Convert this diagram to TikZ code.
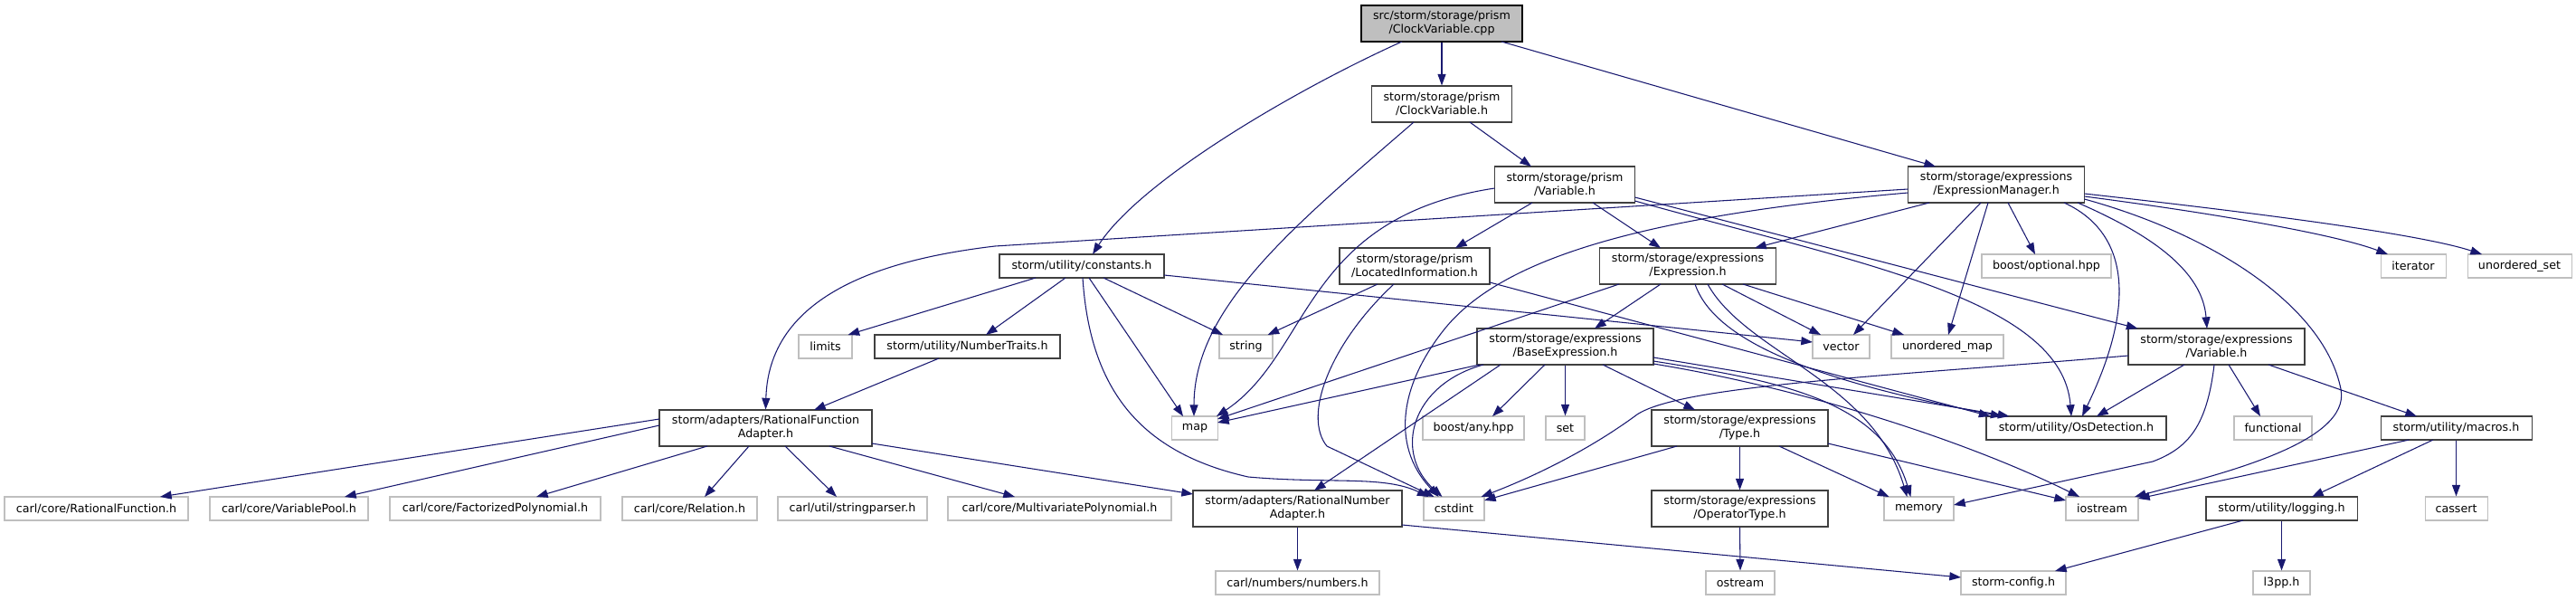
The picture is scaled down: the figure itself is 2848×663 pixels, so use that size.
\documentclass[tikz,border=0pt]{standalone}
\usepackage{fontspec}
\setmainfont{DejaVu Sans}
\usetikzlibrary{calc,arrows.meta}
\definecolor{edgeblue}{HTML}{191970}
\definecolor{sysgray}{HTML}{BFBFBF}
\definecolor{locgray}{HTML}{404040}
\newcommand\mkn[7]{\node[#6, minimum width=#4*0.75pt, minimum height=#5*0.75pt] (#1) at (#2,#3) {#7};}
\tikzset{
  basebox/.style={inner sep=0pt, align=center, line width=0.8pt, font=\fontsize{9.5pt}{11.25pt}\selectfont, text=black},
  lnode/.style={basebox, draw=locgray, fill=white},
  snode/.style={basebox, draw=sysgray, fill=white},
  rnode/.style={basebox, draw=black, fill=sysgray},
  dep/.style={draw=edgeblue, line width=0.8pt, -{Triangle[length=9.5pt,width=6.8pt]}}
}
\begin{document}
\begin{tikzpicture}[x=0.75pt,y=-0.75pt]
\useasboundingbox (0,0) rectangle (2848,663);
\mkn{root}{1594}{26}{178}{40}{rnode}{src/storm/storage/prism\\/ClockVariable.cpp}
\mkn{cvh}{1594}{115}{155}{40}{lnode}{storm/storage/prism\\/ClockVariable.h}
\mkn{pvar}{1730}{204}{155}{40}{lnode}{storm/storage/prism\\/Variable.h}
\mkn{exman}{2207}{204}{195}{40}{lnode}{storm/storage/expressions\\/ExpressionManager.h}
\mkn{const}{1196}{294}{182}{26}{lnode}{storm/utility/constants.h}
\mkn{locinfo}{1564}{294}{166}{40}{lnode}{storm/storage/prism\\/LocatedInformation.h}
\mkn{expr}{1866}{294}{195}{40}{lnode}{storm/storage/expressions\\/Expression.h}
\mkn{boostopt}{2262.5}{294}{143}{26}{snode}{boost/optional.hpp}
\mkn{iterator}{2668}{294}{72}{26}{snode}{iterator}
\mkn{uset}{2785.5}{294}{115}{26}{snode}{unordered\_set}
\mkn{limits}{912.5}{383}{59}{26}{snode}{limits}
\mkn{numtraits}{1069.5}{383}{205}{26}{lnode}{storm/utility/NumberTraits.h}
\mkn{strg}{1377.5}{383}{59}{26}{snode}{string}
\mkn{baseexpr}{1730.5}{383}{195}{40}{lnode}{storm/storage/expressions\\/BaseExpression.h}
\mkn{vector}{2035.5}{383}{63}{26}{snode}{vector}
\mkn{umap}{2153}{383}{124}{26}{snode}{unordered\_map}
\mkn{evar}{2450.5}{383}{195}{40}{lnode}{storm/storage/expressions\\/Variable.h}
\mkn{rfa}{846.5}{473}{235}{40}{lnode}{storm/adapters/RationalFunction\\Adapter.h}
\mkn{map}{1321}{473}{51}{26}{snode}{map}
\mkn{anyhpp}{1629}{473}{112}{26}{snode}{boost/any.hpp}
\mkn{setn}{1730.5}{473}{43}{26}{snode}{set}
\mkn{type}{1923.5}{473}{195}{40}{lnode}{storm/storage/expressions\\/Type.h}
\mkn{osdet}{2295.5}{473}{199}{26}{lnode}{storm/utility/OsDetection.h}
\mkn{functional}{2513}{473}{86}{26}{snode}{functional}
\mkn{macros}{2715.5}{473}{167}{26}{lnode}{storm/utility/macros.h}
\mkn{ratfun}{106.5}{562}{203}{26}{snode}{carl/core/RationalFunction.h}
\mkn{varpool}{319.5}{562}{175}{26}{snode}{carl/core/VariablePool.h}
\mkn{factpoly}{547.5}{562}{233}{26}{snode}{carl/core/FactorizedPolynomial.h}
\mkn{relation}{762.5}{562}{149}{26}{snode}{carl/core/Relation.h}
\mkn{strparser}{942.5}{562}{165}{26}{snode}{carl/util/stringparser.h}
\mkn{multipoly}{1171.5}{562}{247}{26}{snode}{carl/core/MultivariatePolynomial.h}
\mkn{rna}{1434.5}{562}{231}{40}{lnode}{storm/adapters/RationalNumber\\Adapter.h}
\mkn{cstdint}{1607.5}{562}{67}{26}{snode}{cstdint}
\mkn{optype}{1923.5}{562}{195}{40}{lnode}{storm/storage/expressions\\/OperatorType.h}
\mkn{memory}{2121.5}{562}{77}{26}{snode}{memory}
\mkn{iostream}{2324}{562}{80}{26}{snode}{iostream}
\mkn{logging}{2522.5}{562}{167}{26}{lnode}{storm/utility/logging.h}
\mkn{cassert}{2715.5}{562}{69}{26}{snode}{cassert}
\mkn{numbers}{1434.5}{644}{181}{26}{snode}{carl/numbers/numbers.h}
\mkn{ostream}{1924}{644}{76}{26}{snode}{ostream}
\mkn{stormcfg}{2226}{644}{116}{26}{snode}{storm-config.h}
\mkn{l3pp}{2522.5}{644}{63}{26}{snode}{l3pp.h}
% root
\draw[dep] (root.south) -- (cvh.north);
\draw[dep] ($(root)+(-44,20)$) .. controls (1430,100) and (1260,200) .. ($(const)+(12,-13)$);
\draw[dep] ($(root)+(66,20)$) -- ($(exman)+(-67,-20)$);
% cvh
\draw[dep] ($(cvh)+(-31,20)$) .. controls (1430,250) and (1320,340) .. ($(map)+(-1,-13)$);
\draw[dep] ($(cvh)+(31,20)$) -- ($(pvar)+(-37,-20)$);
% pvar
\draw[dep] ($(pvar)+(-77.5,4)$) .. controls (1440,240) and (1450,390) .. ($(map)+(24,-13)$);
\draw[dep] ($(pvar)+(-36,20)$) -- ($(locinfo)+(45,-20)$);
\draw[dep] ($(pvar)+(31,20)$) -- ($(expr)+(-30,-20)$);
\draw[dep] ($(pvar)+(77.5,14)$) -- ($(evar)+(-87,-20)$);
\draw[dep] ($(pvar)+(77.5,18)$) .. controls (2050,290) and (2280,330) .. ($(osdet)+(-5.5,-13)$);
% exman
\draw[dep] ($(exman)+(-97.5,5)$) -- (1100,272) .. controls (990,285) and (850,320) .. (rfa.north);
\draw[dep] ($(exman)+(-97.5,9)$) .. controls (1800,240) and (1660,290) .. (1600,360) .. controls (1550,420) and (1535,490) .. ($(cstdint)+(-17,-13)$);
\draw[dep] ($(exman)+(-74,20)$) -- ($(expr)+(74,-20)$);
\draw[dep] ($(exman)+(-17,20)$) -- ($(vector)+(13.5,-13)$);
\draw[dep] ($(exman)+(-9,20)$) -- ($(umap)+(1,-13)$);
\draw[dep] ($(exman)+(13,20)$) -- ($(boostopt)+(-12.5,-13)$);
\draw[dep] ($(exman)+(75,20)$) .. controls (2350,255) and (2365,330) .. ($(osdet)+(6.5,-13)$);
\draw[dep] ($(exman)+(90,20)$) .. controls (2380,260) and (2435,300) .. ($(evar)+(-10.5,-20)$);
\draw[dep] ($(exman)+(97.5,16)$) .. controls (2450,260) and (2570,340) .. (2588,430) .. controls (2600,490) and (2450,525) .. ($(iostream)+(36,-13)$);
\draw[dep] ($(exman)+(97.5,13)$) .. controls (2480,240) and (2590,262) .. ($(iterator)+(-28,-13)$);
\draw[dep] ($(exman)+(97.5,10)$) .. controls (2520,238) and (2680,260) .. ($(uset)+(-41.5,-13)$);
% const
\draw[dep] ($(const)+(-51,13)$) -- ($(limits)+(25,-13)$);
\draw[dep] ($(const)+(-18,13)$) -- ($(numtraits)+(20.5,-13)$);
\draw[dep] ($(const)+(8,13)$) -- ($(map)+(-13,-13)$);
\draw[dep] ($(const)+(24,13)$) -- ($(strg)+(-25.5,-13)$);
\draw[dep] ($(const)+(1,13)$) .. controls (1205,430) and (1260,500) .. (1380,527) .. controls (1470,535) and (1530,525) .. ($(cstdint)+(-28,-13)$);
\draw[dep] ($(const)+(91,10)$) -- ($(vector)+(-31.5,-5)$);
% locinfo
\draw[dep] ($(locinfo)+(-41,20)$) -- ($(strg)+(24,-13)$);
\draw[dep] ($(locinfo)+(-23,20)$) .. controls (1470,380) and (1440,460) .. (1467,493) -- ($(cstdint)+(-22,-13)$);
\draw[dep] ($(locinfo)+(83,18)$) -- ($(osdet)+(-95,-13)$);
% expr
\draw[dep] ($(expr)+(-76,20)$) -- ($(map)+(25,-10)$);
\draw[dep] ($(expr)+(-30,20)$) -- ($(baseexpr)+(32.5,-20)$);
\draw[dep] ($(expr)+(38,20)$) -- ($(vector)+(-22.5,-13)$);
\draw[dep] ($(expr)+(61,20)$) -- ($(umap)+(-48,-13)$);
\draw[dep] ($(expr)+(8,20)$) .. controls (1895,375) and (2000,420) .. ($(osdet)+(-82,-13)$);
\draw[dep] ($(expr)+(22,20)$) .. controls (1930,390) and (2070,420) .. ($(memory)+(-13,-13)$);
% numtraits
\draw[dep] ($(numtraits)+(-31.5,13)$) -- ($(rfa)+(53.5,-20)$);
% baseexpr
\draw[dep] ($(baseexpr)+(-95,20)$) -- ($(map)+(25,-6)$);
\draw[dep] ($(baseexpr)+(-22.5,20)$) -- ($(anyhpp)+(21,-13)$);
\draw[dep] (baseexpr.south) -- (setn.north);
\draw[dep] ($(baseexpr)+(41.5,20)$) -- ($(type)+(-49.5,-20)$);
\draw[dep] ($(baseexpr)+(-71.5,20)$) -- ($(rna)+(18.5,-20)$);
\draw[dep] ($(baseexpr)+(-90.5,20)$) .. controls (1560,425) and (1540,500) .. ($(cstdint)+(-13,-13)$);
\draw[dep] ($(baseexpr)+(97.5,12)$) -- ($(osdet)+(-74,-13)$);
\draw[dep] ($(baseexpr)+(97.5,16)$) .. controls (1960,420) and (2080,440) .. ($(memory)+(-9,-13)$);
\draw[dep] ($(baseexpr)+(97.5,19)$) .. controls (2000,430) and (2180,490) .. ($(iostream)+(-25,-13)$);
% type
\draw[dep] ($(type)+(-69.5,20)$) -- ($(cstdint)+(33.5,-9)$);
\draw[dep] (type.south) -- (optype.north);
\draw[dep] ($(type)+(43.5,20)$) -- ($(memory)+(-33,-13)$);
\draw[dep] ($(type)+(97.5,17)$) -- ($(iostream)+(-40,-9)$);
% evar
\draw[dep] ($(evar)+(-97.5,10)$) .. controls (2100,415) and (1860,425) .. (1810,458) .. controls (1760,495) and (1700,525) .. ($(cstdint)+(30,-13)$);
\draw[dep] ($(evar)+(-35.5,20)$) -- ($(osdet)+(22.5,-13)$);
\draw[dep] ($(evar)+(13.5,20)$) -- ($(functional)+(-14,-13)$);
\draw[dep] ($(evar)+(57.5,20)$) -- ($(macros)+(-43.5,-13)$);
\draw[dep] ($(evar)+(-2.5,20)$) .. controls (2440,470) and (2420,495) .. (2380,510) -- ($(memory)+(38.5,-4)$);
% rfa
\draw[dep] ($(rfa)+(-117.5,-10)$) -- ($(ratfun)+(70.5,-13)$);
\draw[dep] ($(rfa)+(-117.5,-3)$) -- ($(varpool)+(61.5,-13)$);
\draw[dep] ($(rfa)+(-64.5,20)$) -- ($(factpoly)+(45.5,-13)$);
\draw[dep] ($(rfa)+(-18.5,20)$) -- ($(relation)+(16.5,-13)$);
\draw[dep] ($(rfa)+(21.5,20)$) -- ($(strparser)+(-17.5,-13)$);
\draw[dep] ($(rfa)+(70.5,20)$) -- ($(multipoly)+(-49.5,-13)$);
\draw[dep] ($(rfa)+(117.5,17)$) -- ($(rna)+(-115.5,-16)$);
% macros
\draw[dep] ($(macros)+(-52,13)$) -- ($(iostream)+(40,-11)$);
\draw[dep] ($(macros)+(-25.5,13)$) -- ($(logging)+(33.5,-13)$);
\draw[dep] (macros.south) -- (cassert.north);
% rna
\draw[dep] (rna.south) -- (numbers.north);
\draw[dep] ($(rna)+(115.5,18)$) -- ($(stormcfg)+(-58,-6)$);
% optype, logging
\draw[dep] (optype.south) -- (ostream.north);
\draw[dep] ($(logging)+(-42.5,13)$) -- ($(stormcfg)+(46,-13)$);
\draw[dep] (logging.south) -- (l3pp.north);
\end{tikzpicture}
\end{document}
